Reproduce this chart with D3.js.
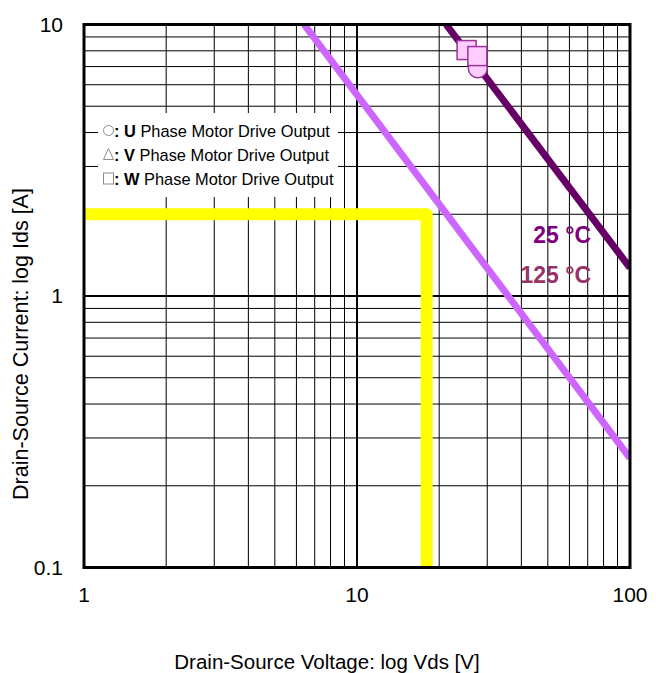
<head>
    <meta name="viewport" content="width=device-width, initial-scale=1">
    <style> body { margin: 0; background: #fff; } text { font-family: "Liberation Sans", Arial, sans-serif; } </style>
    <script src="https://d3js.org/d3.v7.min.js"></script>
</head>
<body>
    <div id="chart"></div>
    <script>

        // axis ticks
        var xTicks = [1, 10, 100],
            yTicks = [0.1, 1, 10];
        var xTickLabels = ["1", "10", "100"],
            yTickLabels = ["0.1", "1", "10"];

        // curves (Vds [V], Ids [A])
        var line25V = [21.2, 100],
            line25I = [10, 1.27];
        var line125V = [6.4, 100],
            line125I = [10, 0.253];

        // operating limit (yellow)
        var limitV = [1, 18, 18],
            limitI = [2, 2, 0.1];

        // measured points
        var circleV = [27.7], circleI = [6.9];
        var squareV = [25.2, 27.6], squareI = [8.05, 7.65];

        var legendShapes = ["circle", "triangle", "square"],
            legendPhases = ["U", "V", "W"];

        var W = 656, H = 673;
        var margin = {top: 24.5, left: 84, right: 26, bottom: 105.5};

        var svg = d3.select("#chart").append("svg")
            .attr("width", W)
            .attr("height", H);

        var x = d3.scaleLog().domain([1, 100]).range([margin.left, W - margin.right]);
        var y = d3.scaleLog().domain([0.1, 10]).range([H - margin.bottom, margin.top]);

        svg.append("clipPath").attr("id", "plotClip")
            .append("rect")
            .attr("x", x(1)).attr("y", y(10))
            .attr("width", x(100) - x(1)).attr("height", y(0.1) - y(10));

        // minor grid
        var minor = [];
        [1, 10].forEach(function(d) { for (var k = 2; k <= 9; k++) minor.push(d * k); });
        var minorY = [];
        [0.1, 1].forEach(function(d) { for (var k = 2; k <= 9; k++) minorY.push(d * k); });

        var grid = svg.append("g");
        grid.selectAll(".vx").data(minor).enter().append("line")
            .attr("x1", d => x(d)).attr("x2", d => x(d))
            .attr("y1", y(10)).attr("y2", y(0.1))
            .attr("stroke", "#000").attr("stroke-width", 1);
        grid.selectAll(".hy").data(minorY).enter().append("line")
            .attr("y1", d => y(d)).attr("y2", d => y(d))
            .attr("x1", x(1)).attr("x2", x(100))
            .attr("stroke", "#000").attr("stroke-width", 1);
        grid.append("line")
            .attr("x1", x(10)).attr("x2", x(10)).attr("y1", y(10)).attr("y2", y(0.1))
            .attr("stroke", "#000").attr("stroke-width", 2);
        grid.append("line")
            .attr("y1", y(1)).attr("y2", y(1)).attr("x1", x(1)).attr("x2", x(100))
            .attr("stroke", "#000").attr("stroke-width", 2);

        // legend box
        var legend = svg.append("g");
        legend.append("rect")
            .attr("x", 98).attr("y", 113).attr("width", 240).attr("height", 84)
            .attr("fill", "#fff");
        legendPhases.forEach(function(p, i) {
            var by = 136.5 + i * 24, cx = 108.5, cy = by - 6;
            var s = legendShapes[i];
            if (s === "circle") {
                legend.append("circle").attr("cx", cx).attr("cy", cy).attr("r", 5)
                    .attr("fill", "none").attr("stroke", "#8c8c8c").attr("stroke-width", 1);
            } else if (s === "triangle") {
                legend.append("path")
                    .attr("d", "M" + (cx - 5) + "," + (cy + 5) + "L" + cx + "," + (cy - 6) + "L" + (cx + 5) + "," + (cy + 5) + "Z")
                    .attr("fill", "none").attr("stroke", "#8c8c8c").attr("stroke-width", 1);
            } else {
                legend.append("rect").attr("x", cx - 5).attr("y", cy - 5.5).attr("width", 10).attr("height", 11)
                    .attr("fill", "none").attr("stroke", "#8c8c8c").attr("stroke-width", 1);
            }
            var t = legend.append("text").attr("x", 114).attr("y", by)
                .attr("font-size", 16.4).attr("fill", "#000");
            t.append("tspan").attr("font-weight", "bold").text(": " + p);
            t.append("tspan").text(" Phase Motor Drive Output");
        });

        var plot = svg.append("g").attr("clip-path", "url(#plotClip)");

        var line = d3.line().x(d => x(d[0])).y(d => y(d[1]));

        plot.append("path")
            .datum(d3.zip(limitV, limitI))
            .attr("d", line)
            .attr("fill", "none")
            .attr("stroke", "#ffff00")
            .attr("stroke-width", 12)
            .attr("stroke-linejoin", "round");

        plot.append("path")
            .datum(d3.zip(line125V, line125I))
            .attr("d", line)
            .attr("fill", "none")
            .attr("stroke", "#cc66ff")
            .attr("stroke-width", 7);

        plot.append("path")
            .datum(d3.zip(line25V, line25I))
            .attr("d", line)
            .attr("fill", "none")
            .attr("stroke", "#660066")
            .attr("stroke-width", 7);

        // markers
        plot.selectAll(".circ").data(d3.zip(circleV, circleI)).enter().append("circle")
            .attr("cx", d => x(d[0])).attr("cy", d => y(d[1])).attr("r", 9.5)
            .attr("fill", "#ffccff").attr("stroke", "#993399").attr("stroke-width", 1.5);
        plot.selectAll(".sq").data(d3.zip(squareV, squareI)).enter().append("rect")
            .attr("x", d => x(d[0]) - 9.5).attr("y", d => y(d[1]) - 9.5)
            .attr("width", 19).attr("height", 19)
            .attr("fill", "#ffccff").attr("stroke", "#993399").attr("stroke-width", 1.5);

        // curve labels
        svg.append("text").attr("x", 591).attr("y", 243)
            .attr("text-anchor", "end").attr("font-size", 23).attr("font-weight", "bold")
            .attr("fill", "#800080").text("25 °C");
        svg.append("text").attr("x", 591).attr("y", 283)
            .attr("text-anchor", "end").attr("font-size", 23).attr("font-weight", "bold")
            .attr("fill", "#993366").text("125 °C");

        // border
        svg.append("rect")
            .attr("x", x(1)).attr("y", y(10))
            .attr("width", x(100) - x(1)).attr("height", y(0.1) - y(10))
            .attr("fill", "none").attr("stroke", "#000").attr("stroke-width", 3);

        // tick labels
        svg.selectAll(".xt").data(xTicks).enter().append("text")
            .attr("x", d => x(d)).attr("y", 595)
            .attr("dy", "0.35em")
            .attr("text-anchor", "middle").attr("font-size", 21)
            .text((d, i) => xTickLabels[i]);
        svg.selectAll(".yt").data(yTicks).enter().append("text")
            .attr("x", 63).attr("y", d => y(d))
            .attr("dy", "0.35em")
            .attr("text-anchor", "end").attr("font-size", 21)
            .text((d, i) => yTickLabels[i]);

        // axis titles
        svg.append("text")
            .attr("x", 327).attr("y", 662).attr("dy", "0.35em")
            .attr("text-anchor", "middle").attr("font-size", 20.5)
            .text("Drain-Source Voltage: log Vds [V]");
        svg.append("text")
            .attr("transform", "translate(20,344) rotate(-90)")
            .attr("dy", "0.35em")
            .attr("text-anchor", "middle").attr("font-size", 21.5)
            .text("Drain-Source Current: log Ids [A]");

    </script>
</body>
